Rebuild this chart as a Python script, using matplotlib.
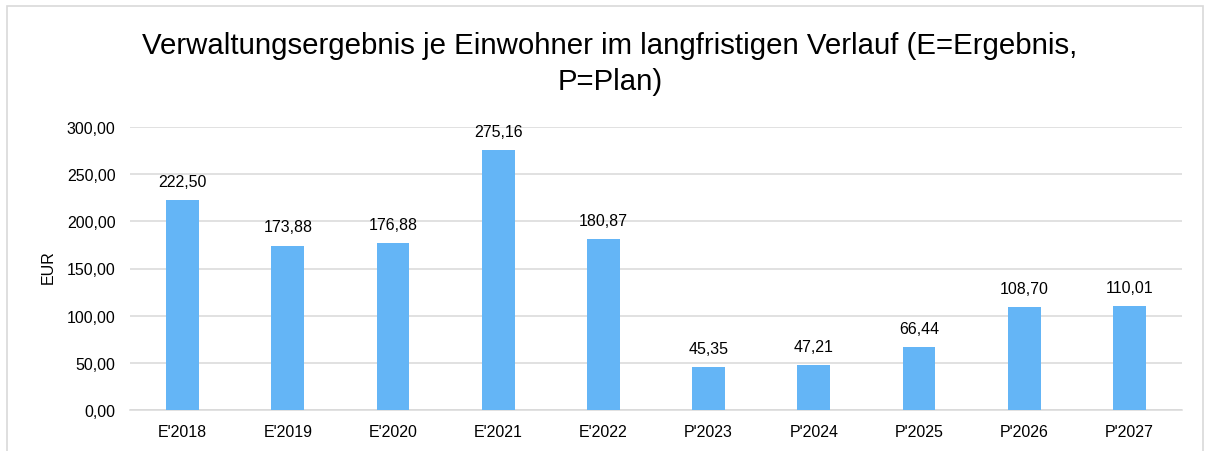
import matplotlib.pyplot as plt
from matplotlib.patches import Rectangle

plt.rcParams['font.family'] = ['Liberation Sans', 'DejaVu Sans']

# Daten
kategorien = ["E'2018", "E'2019", "E'2020", "E'2021", "E'2022",
              "P'2023", "P'2024", "P'2025", "P'2026", "P'2027"]
werte = [222.50, 173.88, 176.88, 275.16, 180.87,
         45.35, 47.21, 66.44, 108.70, 110.01]
y_ticks = [0, 50, 100, 150, 200, 250, 300]

W, H = 1205, 452
fig = plt.figure(figsize=(W / 100, H / 100), dpi=100)
ax = fig.add_axes([130 / W, 41 / H, (1182 - 130) / W, (411 - 128) / H])

x = range(len(kategorien))
balken = ax.bar(x, werte, width=0.31, color='#64B5F6', zorder=3)

ax.set_xlim(-0.5, len(kategorien) - 0.5)
ax.set_ylim(0, 300)
ax.set_yticks(y_ticks)
ax.set_yticklabels([f"{v:.2f}".replace('.', ',') for v in y_ticks], fontsize=11.5)
ax.set_xticks(list(x))
ax.set_xticklabels(kategorien, fontsize=11.5)
ax.tick_params(length=0)
ax.tick_params(axis='y', pad=10.5)
ax.tick_params(axis='x', pad=10)

ax.grid(axis='y', color='#D9D9D9', linewidth=1.1, zorder=0)
for s in ['top', 'right', 'left']:
    ax.spines[s].set_visible(False)
ax.spines['bottom'].set_color('#D9D9D9')
ax.spines['bottom'].set_linewidth(1.1)

# Werte über den Balken
for b, v in zip(balken, werte):
    ax.annotate(f"{v:.2f}".replace('.', ','), (b.get_x() + b.get_width() / 2, v),
                xytext=(0, 13.7), textcoords='offset points',
                ha='center', va='center', fontsize=11.5)

fig.text(48 / W, 1 - 267 / H, 'EUR', rotation=90, ha='center', va='center', fontsize=11.5)

# Titel in zwei Zeilen
fig.text(610 / W, 1 - 54 / H,
         'Verwaltungsergebnis je Einwohner im langfristigen Verlauf (E=Ergebnis,',
         ha='center', va='baseline', fontsize=21.2)
fig.text(610 / W, 1 - 90 / H, 'P=Plan)', ha='center', va='baseline', fontsize=21.2)

# Rahmen
fig.patches.append(Rectangle((7 / W, -0.1), (1203 - 7) / W, 1.1 - 7 / H,
                             transform=fig.transFigure, fill=False,
                             edgecolor='#D9D9D9', linewidth=1.2))

fig.savefig('out.png', dpi=100)
